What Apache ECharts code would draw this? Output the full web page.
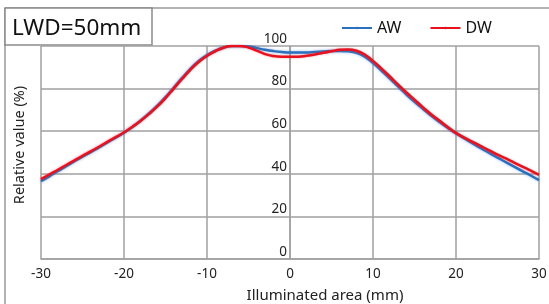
<!DOCTYPE html>
<html>
<head>
<meta charset="utf-8">
<script src="https://cdn.jsdelivr.net/npm/echarts@6/dist/echarts.min.js"></script>
<style>
html,body{margin:0;padding:0;background:#fff;}
#c{width:549px;height:304px;}
</style>
</head>
<body>
<div id="c"></div>
<script>
const xValues = [-30,-29,-28,-27,-26,-25,-24,-23,-22,-21,-20,-19,-18,-17,-16,-15,-14,-13,-12,-11,-10,-9,-8,-7,-6,-5,-4,-3,-2,-1,0,1,2,3,4,5,6,7,8,9,10,11,12,13,14,15,16,17,18,19,20,21,22,23,24,25,26,27,28,29,30];
const awValues = [36.5,38.8,41.2,43.5,45.8,48,50.2,52.4,54.7,57,59.3,62,65,68.3,72,76,80.5,85,89.3,93,95.8,97.8,99.3,100,100,99.8,99,98.2,97.6,97.2,97,97,97,97.2,97.4,97.6,97.7,97.5,96.8,95,92,88.5,84.8,81,77.3,73.8,70.5,67.3,64.3,61.5,59,56.6,54.3,52,49.8,47.6,45.5,43.4,41.3,39.2,37];
const dwValues = [37.5,39.6,41.8,44,46.2,48.4,50.5,52.7,55,57.2,59.4,62,64.8,68,71.5,75.5,80,84.5,88.8,92.5,95.3,97.5,99.2,100,100,99.3,97.8,96.2,95.3,95,95,95,95.4,96,96.8,97.5,98.2,98.4,97.8,96,93,89.5,85.8,82,78.3,74.8,71.3,68,65,62,59.2,57,55,53,51,49,47.2,45.3,43.4,41.5,39.5];
const seriesNames = ['AW','DW'];
const titleText = 'LWD=50mm';
const xAxisName = 'Illuminated area (mm)';
const yAxisName = 'Relative value (%)';

const font = '"Noto Sans", "Open Sans", sans-serif';
const chart = echarts.init(document.getElementById('c'), null, {renderer:'canvas'});
const gridColor = '#a0a0a0';
chart.setOption({
  animation:false,
  backgroundColor:'#fff',
  textStyle:{fontFamily:font},
  graphic:[
    {type:'line', shape:{x1:5,y1:8,x2:549,y2:8}, style:{stroke:'#9a9a9a', lineWidth:1.5}},
    {type:'line', shape:{x1:5,y1:8,x2:5,y2:304}, style:{stroke:'#9a9a9a', lineWidth:1.5}},
    {type:'rect', shape:{x:5,y:8,width:147,height:37}, style:{fill:'#fff', stroke:'#8a8a8a', lineWidth:1.5}},
    {type:'text', style:{x:12, y:29, text:titleText, fontSize:22.5, fontFamily:font, fill:'#111', verticalAlign:'middle', align:'left'}}
  ],
  legend:{
    left:336, top:15, itemWidth:30, itemHeight:3, itemGap:28,
    textStyle:{fontSize:16, color:'#111', fontFamily:font},
    data:seriesNames
  },
  grid:{left:41, right:10, top:46, bottom:45, containLabel:false, outerBoundsMode:'none'},
  xAxis:{
    type:'value', min:-30, max:30, interval:10,
    name:xAxisName, nameLocation:'middle', nameGap:29,
    nameTextStyle:{fontSize:15, color:'#222', fontFamily:font, padding:[0,0,0,70]},
    axisLine:{show:true, lineStyle:{color:gridColor, width:1.5}},
    axisTick:{show:false},
    axisLabel:{fontSize:13.5, color:'#222', margin:8, fontFamily:font},
    splitLine:{show:true, lineStyle:{color:gridColor, width:1.5}}
  },
  yAxis:{
    type:'value', min:0, max:100, interval:20,
    name:yAxisName, nameLocation:'middle', nameGap:14,
    nameTextStyle:{fontSize:14.5, color:'#222', fontFamily:font, padding:[0,0,0,15]},
    axisLine:{show:true, lineStyle:{color:gridColor, width:1.5}},
    axisTick:{show:false},
    axisLabel:{fontSize:13.5, color:'#222', margin:-246, verticalAlign:'bottom', fontFamily:font},
    splitLine:{show:true, lineStyle:{color:gridColor, width:1.5}}
  },
  series:[
    {name:seriesNames[0], type:'line', smooth:true, symbol:'none', data:xValues.map((x,i)=>[x,awValues[i]]),
     lineStyle:{color:'#2a70bd', width:2.5, shadowBlur:3, shadowColor:'rgba(80,140,210,0.6)'}, itemStyle:{color:'#2a70bd'}},
    {name:seriesNames[1], type:'line', smooth:true, symbol:'none', data:xValues.map((x,i)=>[x,dwValues[i]]),
     lineStyle:{color:'#e8121e', width:2.5, shadowBlur:2, shadowColor:'rgba(240,60,70,0.5)'}, itemStyle:{color:'#e8121e'}}
  ]
});
</script>
</body>
</html>
